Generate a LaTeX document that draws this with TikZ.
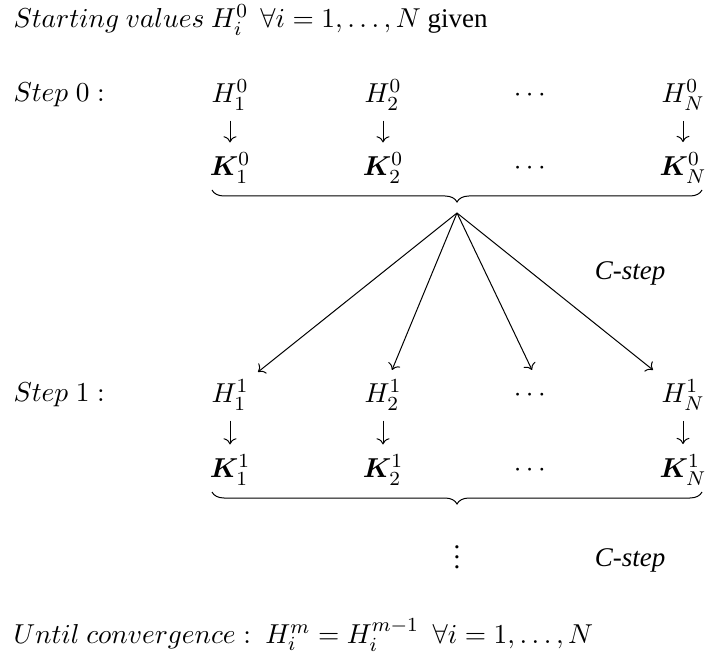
\documentclass[tikz,border=0pt]{standalone}
\usepackage{amsmath,amssymb,bm}
\usepackage[no-math]{fontspec}
\setmainfont{Liberation Serif}
\newfontfamily\cstepit{Liberation Serif Italic}
\usetikzlibrary{arrows.meta,decorations.pathreplacing}

\tikzset{
  hk/.style={inner sep=1pt, font=\fontsize{10.8}{12}\selectfont},
  rowlabel/.style={anchor=west, inner sep=0pt, font=\fontsize{10.8}{12}\selectfont},
  cstepfont/.style={inner sep=0pt, font=\fontsize{10.8}{12}\cstepit},
  down/.style={->, shorten <=3pt, shorten >=3pt},
  cstepline/.style={->},
  underbrace/.style={decorate, decoration={brace, mirror, amplitude=4.8pt}}
}

\begin{document}
\begin{tikzpicture}[x=0.4pt, y=-0.4pt]
  \useasboundingbox (0,0) rectangle (706,658);

  % Start line
  \node[rowlabel] (start) at (13,20) {$Starting\ values\ H_i^0\;\,\forall i=1,\ldots,N$ given};

  % Step 0
  \node[rowlabel] (step0) at (13,95) {$Step\;0:$};
  \node[hk] (h01) at (230,95) {$H_1^0$};
  \node[hk] (h02) at (383,95) {$H_2^0$};
  \node[hk] (h0d) at (532,95) {$\cdots$};
  \node[hk] (h0n) at (683,95) {$H_N^0$};
  \node[hk] (k01) at (230,168) {$\bm{K}_1^0$};
  \node[hk] (k02) at (383,168) {$\bm{K}_2^0$};
  \node[hk] (k0d) at (532,168) {$\cdots$};
  \node[hk] (k0n) at (683,168) {$\bm{K}_N^0$};
  \draw[down] (h01) -- (k01);
  \draw[down] (h02) -- (k02);
  \draw[down] (h0n) -- (k0n);
  \coordinate (b0l) at (212,190);
  \coordinate (b0r) at (702,190);
  \draw[underbrace] (b0l) -- (b0r);

  % C-step fan
  \coordinate (fan) at (457,213);
  \coordinate (e1) at (258,372);
  \coordinate (e2) at (392,370);
  \coordinate (e3) at (532,370);
  \coordinate (e4) at (653,370);
  \foreach \e in {e1,e2,e3,e4}
    \draw[cstepline] (fan) -- (\e);
  \node[cstepfont] (cstep1) at (630,273) {C-step};

  % Step 1
  \node[rowlabel] (step1) at (13,395) {$Step\;1:$};
  \node[hk] (h11) at (230,395) {$H_1^1$};
  \node[hk] (h12) at (383,395) {$H_2^1$};
  \node[hk] (h1d) at (532,395) {$\cdots$};
  \node[hk] (h1n) at (683,395) {$H_N^1$};
  \node[hk] (k11) at (230,470) {$\bm{K}_1^1$};
  \node[hk] (k12) at (383,470) {$\bm{K}_2^1$};
  \node[hk] (k1d) at (532,470) {$\cdots$};
  \node[hk] (k1n) at (683,470) {$\bm{K}_N^1$};
  \draw[down] (h11) -- (k11);
  \draw[down] (h12) -- (k12);
  \draw[down] (h1n) -- (k1n);
  \coordinate (b1l) at (212,492);
  \coordinate (b1r) at (702,492);
  \draw[underbrace] (b1l) -- (b1r);

  % Further steps
  \node[hk] (vdots) at (457,550) {$\vdots$};
  \node[cstepfont] (cstep2) at (630,560) {C-step};

  % Stop rule
  \node[rowlabel] (stop) at (13,635) {$Until\ convergence:\ H_i^m=H_i^{m-1}\ \ \forall i=1,\ldots,N$};
\end{tikzpicture}
\end{document}
